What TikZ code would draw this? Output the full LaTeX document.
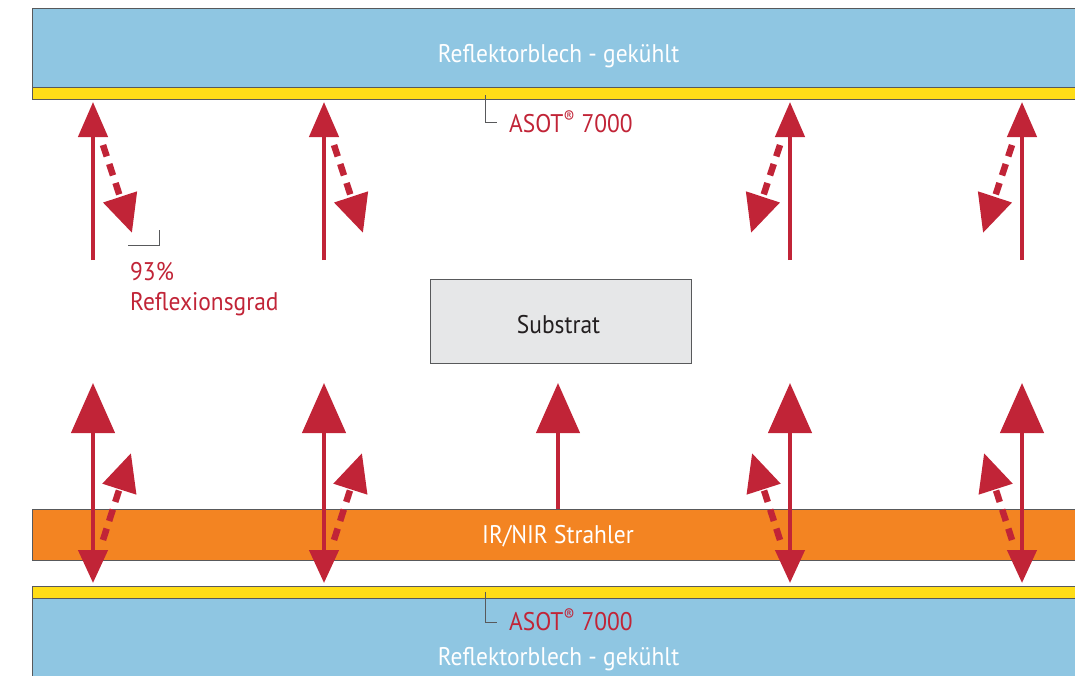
\documentclass[tikz,border=0pt]{standalone}
\usepackage{fontspec}
\setmainfont{PT Sans}[FakeStretch=0.92]
\usetikzlibrary{arrows.meta}
\definecolor{rred}{HTML}{C12437}
\definecolor{rblue}{HTML}{8FC6E2}
\definecolor{ryellow}{HTML}{FFDD17}
\definecolor{rorange}{HTML}{F38422}
\definecolor{rgray}{HTML}{E6E7E8}
\definecolor{rline}{HTML}{58595B}
\definecolor{rtext}{HTML}{231F20}
\tikzset{
  bar/.style={draw=rline, line width=1pt, anchor=north west, inner sep=0pt},
  txt/.style={inner sep=0pt, anchor=base, font=\fontsize{25.5}{30}\selectfont},
  whitetxt/.style={txt, text=white},
  redlabel/.style={txt, text=rred, anchor=base west},
  leader/.style={draw=rline, line width=0.9pt},
  solidarrow/.style={draw=rred, line width=4.5pt},
  dasharrow/.style={draw=rred, line width=6.5pt, dash pattern=on 12pt off 8pt},
  smalltip/.style={-{Triangle[width=29pt,length=35pt]}},
  bigtip/.style={{Triangle[width=29pt,length=33pt]}-{Triangle[width=43pt,length=50pt]}},
  dashtip/.style={-{Triangle[width=34pt,length=38pt]}},
}
\begin{document}
\begin{tikzpicture}[x=1pt,y=-1pt]
\useasboundingbox (0,0) rectangle (1075,675);
\clip (0,0) rectangle (1075,675);
% top reflector
\node[bar, fill=rblue, minimum width=1050pt, minimum height=91pt] (topbar) at (32,8) {};
\fill[ryellow] (32,87) rectangle (1082,99);
\draw[rline, line width=1pt] (32,87) -- (1082,87);
\draw[rline, line width=1pt] (32,87) -- (32,99) -- (1082,99);
\node[whitetxt] (toptxt) at (558.5,62) {Reflektorblech - gekühlt};
% bottom reflector
\fill[ryellow] (32,586.5) rectangle (1082,598.5);
\fill[rblue] (32,598.5) rectangle (1082,680);
\draw[rline, line width=1pt] (1082,586.5) -- (32,586.5) -- (32,680);
\draw[rline, line width=1pt] (32,598.5) -- (1082,598.5);
\node[whitetxt] (bottxt) at (558.5,665) {Reflektorblech - gekühlt};
% heater
\node[bar, fill=rorange, minimum width=1050pt, minimum height=51pt] (heater) at (32,509) {};
\node[whitetxt] (heatertxt) at (558,543) {IR/NIR Strahler};
% substrate
\node[draw=rline, line width=1pt, fill=rgray, minimum width=261pt, minimum height=84pt, inner sep=0pt] (sub) at (560.5,321) {};
\node[txt, text=rtext] (subtxt) at (558.5,333) {Substrat};
% labels
\coordinate (l1a) at (485,95);
\coordinate (l1b) at (497,122);
\draw[leader] (l1a) |- (l1b);
\node[redlabel] (asot1) at (509,132) {ASOT\textsuperscript{\raisebox{-0.1ex}{\textregistered}} 7000};
\coordinate (l2a) at (485,592);
\coordinate (l2b) at (497,622);
\draw[leader] (l2a) |- (l2b);
\node[redlabel] (asot2) at (509,630) {ASOT\textsuperscript{\raisebox{-0.1ex}{\textregistered}} 7000};
\coordinate (l3a) at (159,230);
\coordinate (l3b) at (128,245);
\draw[leader] (l3a) |- (l3b);
\node[redlabel] (refl1) at (130,280) {93\%};
\node[redlabel] (refl2) at (130,310) {Reflexionsgrad};
% top arrows
\foreach \x/\d in {93/1, 324/1, 790/-1, 1022/-1} {
  \coordinate (ta\x) at (\x,260);
  \coordinate (tb\x) at (\x,102);
  \draw[solidarrow, smalltip] (ta\x) -- (tb\x);
  \coordinate (da\x) at (\x+10*\d,145);
  \coordinate (db\x) at (\x+39*\d,233);
  \draw[dasharrow, dashtip] (da\x) -- (db\x);
}
% bottom arrows
\foreach \x/\d in {93/1, 324/1, 790/-1, 1022/-1} {
  \coordinate (ba\x) at (\x,583);
  \coordinate (bb\x) at (\x,383);
  \draw[solidarrow, bigtip] (ba\x) -- (bb\x);
  \coordinate (ea\x) at (\x+10*\d,540);
  \coordinate (eb\x) at (\x+38*\d,453);
  \draw[dasharrow, dashtip] (ea\x) -- (eb\x);
}
\coordinate (mid) at (558,383);
\draw[solidarrow, -{Triangle[width=43pt,length=50pt]}] (heater.north -| mid) -- (mid);
\end{tikzpicture}
\end{document}
